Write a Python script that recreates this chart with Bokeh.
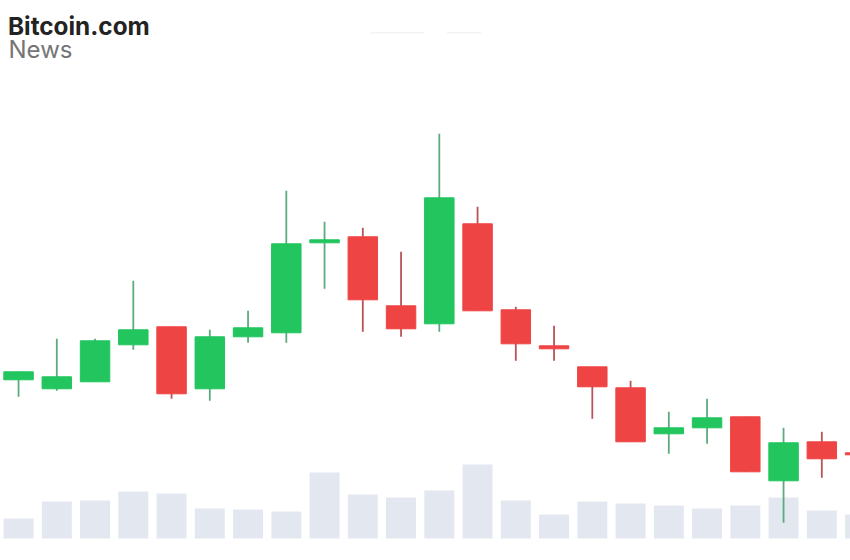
from bokeh.plotting import figure
from bokeh.models import Range1d, Label
from bokeh.embed import file_html
from bokeh.resources import INLINE

# Arbitrary price/volume units
highs  = [188, 221, 221, 279, 233, 230, 249, 369, 338, 332, 308, 426, 353, 253, 234, 193, 179, 148, 161, 143, 132, 128, 107]
opens  = [180, 171, 178, 215, 233, 171, 223, 227, 317, 323, 254, 236, 336, 250, 214, 193, 172, 126, 132, 143, 79, 118, 107]
closes = [188, 183, 219, 230, 166, 223, 232, 316, 320, 260, 231, 362, 249, 216, 211, 173, 118, 132, 142, 88, 117, 101, 105]
lows   = [163, 169, 178, 210, 161, 159, 217, 217, 271, 228, 223, 228, 249, 199, 199, 141, 118, 106, 116, 88, 37, 82, 105]
volume = [20, 37, 38, 47, 45, 30, 29, 27, 66, 44, 41, 48, 74, 38, 24, 37, 35, 33, 30, 33, 41, 28, 24]
faint_x0 = [9.2, 11.2]
faint_x1 = [10.6, 12.1]
faint_y = [527, 527]
logo_top = "Bitcoin.com"
logo_bottom = "News"

GREEN, RED = "#22c55e", "#ef4444"
WICK_G, WICK_R = "#5dab7c", "#b9535a"
idx = list(range(len(opens)))
up = [c >= o for o, c in zip(opens, closes)]

p = figure(width=850, height=560, output_backend="svg", toolbar_location=None,
           x_range=Range1d(-0.472, 21.75), y_range=Range1d(-0.7, 559.3),
           min_border=0, min_border_left=0, min_border_right=0, min_border_top=0, min_border_bottom=0,
           outline_line_color=None, background_fill_color="white", border_fill_color="white")
p.styles = {"position": "absolute", "left": "0px", "top": "0px"}
p.xaxis.visible = False
p.yaxis.visible = False
p.grid.visible = False

p.extra_y_ranges = {"vol": Range1d(-22, 538)}
p.vbar(x=idx, top=volume, bottom=0, width=0.784, fill_color="#e3e8f0", line_color=None, y_range_name="vol")

p.segment(x0=idx, x1=idx, y0=lows, y1=highs, line_width=1.8,
          line_color=[WICK_G if u else WICK_R for u in up])
p.vbar(x=idx, top=[max(o, c) for o, c in zip(opens, closes)], bottom=[min(o, c) for o, c in zip(opens, closes)],
       width=0.77, fill_color=[GREEN if u else RED for u in up],
       line_color=[GREEN if u else RED for u in up], line_width=1)

p.segment(x0=faint_x0, x1=faint_x1, y0=faint_y, y1=faint_y, line_color="#f4f4f4", line_width=1.5)

p.add_layout(Label(x=7.5, y=535, x_units="screen", y_units="screen", text=logo_top, text_font="Inter",
                   text_font_size="24.3px", text_font_style="bold", text_color="#232323", text_baseline="alphabetic"))
p.add_layout(Label(x=8, y=511, x_units="screen", y_units="screen", text=logo_bottom, text_font="Inter",
                   text_font_size="24px", text_color="#757575", text_baseline="alphabetic"))

open("out.html", "w").write(file_html(p, INLINE))
